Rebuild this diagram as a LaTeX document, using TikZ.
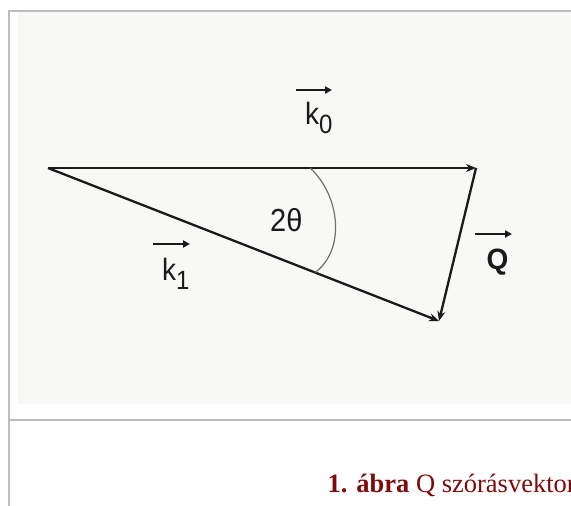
\documentclass[tikz,border=0pt]{standalone}
\usepackage{fontspec}
\setmainfont{Liberation Serif}
\newfontfamily\arialf{Liberation Sans}
\usetikzlibrary{arrows.meta}
\definecolor{framegray}{HTML}{BDBDBD}
\definecolor{panelbg}{HTML}{F8F8F7}
\definecolor{capred}{HTML}{7F0A0A}
\definecolor{lineblack}{HTML}{1A1A1A}
\definecolor{arcgray}{HTML}{707070}
\tikzset{
  vec/.style={draw=lineblack, line width=2.3pt, -{Stealth[length=10pt,width=8pt]}},
  overarrow/.style={draw=lineblack, line width=1.9pt, -{Triangle[length=7pt,width=7pt]}},
  lbl/.style={inner sep=0pt, anchor=base west, text=lineblack, font=\arialf},
  anglearc/.style={draw=arcgray, line width=1.2pt},
}
\begin{document}
\begin{tikzpicture}[x=1pt,y=-1pt]
\useasboundingbox (0,0) rectangle (571,506);
\fill[white] (0,0) rectangle (571,506);
% panel background
\fill[panelbg] (18,12) rectangle (571,404);
% frame lines
\draw[framegray, line width=2pt] (9,506) -- (9,11) -- (571,11);
\draw[framegray, line width=2pt] (9,420) -- (571,420);
% vector diagram
\coordinate (O) at (48,168);
\coordinate (A) at (476,168);
\coordinate (B) at (439,321);
\draw[vec] (O) -- (A);
\draw[vec] (A) -- (B);
\draw[vec] (O) -- (B);
% angle arc
\coordinate (a1) at (310,168);
\coordinate (a2) at (315,272.5);
\draw[anglearc] (a1) .. controls (340,195) and (346,250) .. (a2);
% labels
\node[lbl] (k0) at (305,124.5) {\scalebox{1}[1.1]{\fontsize{28}{28}\selectfont k}\raisebox{-9pt}{\scalebox{1}[1.1]{\fontsize{24}{24}\selectfont 0}}};
\node[lbl] (k1) at (162,280) {\scalebox{1}[1.1]{\fontsize{28}{28}\selectfont k}\raisebox{-9pt}{\scalebox{1}[1.1]{\fontsize{24}{24}\selectfont 1}}};
\node[lbl] (q) at (486.5,269) {\scalebox{1}[1.05]{\fontsize{28}{28}\selectfont\bfseries Q}};
\node[lbl] (th) at (270,231) {\scalebox{1}[1.1]{\fontsize{29}{29}\selectfont 2θ}};
% arrows over letters
\draw[overarrow] (296,90) -- (332,90);
\draw[overarrow] (153,244) -- (190,244);
\draw[overarrow] (475,234) -- (512,234);
% caption
\begin{scope}
\clip (0,0) rectangle (571,506);
\node[inner sep=0pt, anchor=base west, text=capred] (cap) at (327.5,492) {\fontsize{26.5}{26.5}\selectfont\textbf{1. ábra} Q szórásvektor};
\end{scope}
\end{tikzpicture}
\end{document}
